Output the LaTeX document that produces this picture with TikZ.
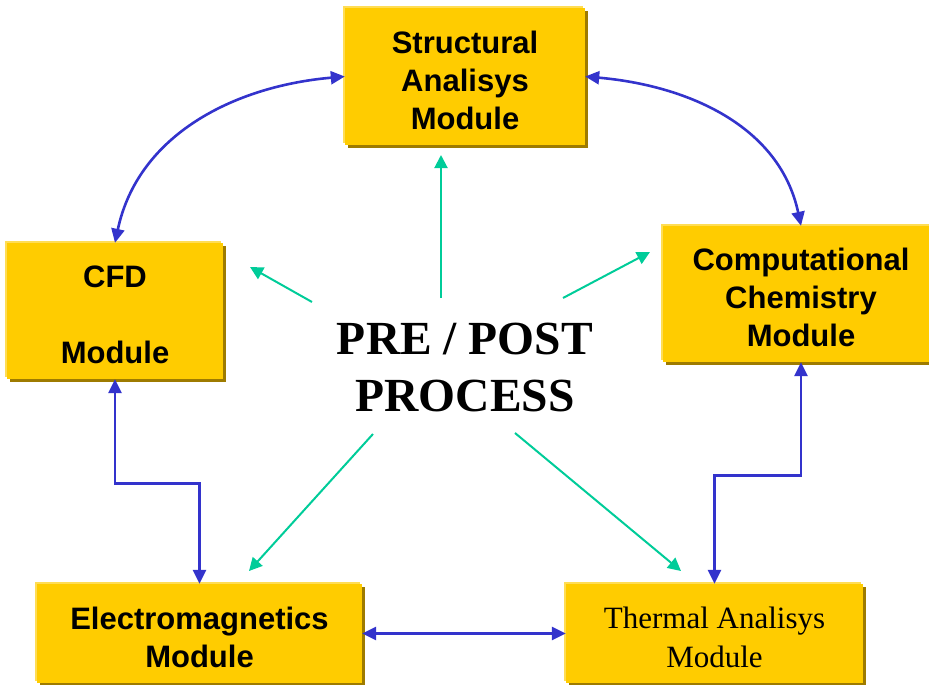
\documentclass[tikz,border=0pt]{standalone}
\usepackage{fontspec}
\setmainfont{Liberation Serif}
\setsansfont{Liberation Sans}
\usetikzlibrary{arrows.meta,shadows}
\definecolor{modfill}{HTML}{FFCC00}
\definecolor{modlight}{HTML}{FFDD55}
\definecolor{modshade}{HTML}{9E7B00}
\definecolor{linkblue}{HTML}{3333CC}
\definecolor{rayteal}{HTML}{00CC99}
\newcommand\modstrut{\rule{0pt}{30pt}}
\tikzset{
	modbox/.style={fill=modfill, align=center, inner sep=0pt,
		general shadow={shadow xshift=3pt, shadow yshift=-3pt, fill=modshade},
		general shadow={shadow xshift=-2pt, shadow yshift=2pt, fill=modlight},
		font=\sffamily\bfseries\fontsize{31}{38}\selectfont},
	blink/.style={draw=linkblue, line width=2.6pt, {Triangle[length=14pt,width=13pt]}-{Triangle[length=14pt,width=13pt]}},
	ray/.style={draw=rayteal, line width=2pt, -{Triangle[length=13pt,width=13pt]}}
}
\begin{document}
\begin{tikzpicture}[x=1pt, y=1pt]
	\useasboundingbox (0,0) rectangle (929,-685);
	\begin{scope}
		\clip (0,0) rectangle (929,-685);
		% 1. Cac module
		\node[modbox, minimum width=240pt, minimum height=137pt] (sam) at (465,-76.5) {\modstrut Structural\\Analisys\\Module};
		\node[modbox, minimum width=216pt, minimum height=136pt] (cfd) at (115,-311) {\modstrut CFD\\[38pt]Module};
		\node[modbox, minimum width=276pt, minimum height=136pt] (chem) at (801,-294) {\modstrut Computational\\Chemistry\\Module};
		\node[modbox, minimum width=325pt, minimum height=99pt] (em) at (199.5,-633.5) {\modstrut Electromagnetics\\Module};
		\node[modbox, minimum width=297pt, minimum height=99pt, font=\rmfamily\fontsize{31}{39}\selectfont] (tam) at (714.5,-633.5) {\modstrut Thermal Analisys\\Module};
	\end{scope}
	% 2. Khoi trung tam
	\node[font=\rmfamily\bfseries\fontsize{47.5}{57}\selectfont, align=center] (core) at (465,-368) {PRE / POST\\PROCESS};

	% 3. Lien ket giua cac module
	\draw[blink] (sam.west) to[out=185, in=78] (cfd.north);
	\draw[blink] (sam.east) to[out=-5, in=102] (chem.north);
	\draw[blink] (cfd.south) -- ++(0,-104) -| (em.north);
	\draw[blink] (chem.south) -- ++(0,-113) -| (tam.north);
	\draw[blink] (em.east) -- (tam.west);

	% 4. Cac mui ten tu trung tam
	\coordinate (rayN0) at (441,-298);  \coordinate (rayN1) at (441,-155);
	\coordinate (rayW0) at (312,-302);  \coordinate (rayW1) at (250,-267);
	\coordinate (rayE0) at (563,-298);  \coordinate (rayE1) at (650,-252);
	\coordinate (raySW0) at (373,-434); \coordinate (raySW1) at (249,-571);
	\coordinate (raySE0) at (515,-433); \coordinate (raySE1) at (681,-571);
	\draw[ray] (rayN0) -- (rayN1);
	\draw[ray] (rayW0) -- (rayW1);
	\draw[ray] (rayE0) -- (rayE1);
	\draw[ray] (raySW0) -- (raySW1);
	\draw[ray] (raySE0) -- (raySE1);
\end{tikzpicture}
\end{document}
